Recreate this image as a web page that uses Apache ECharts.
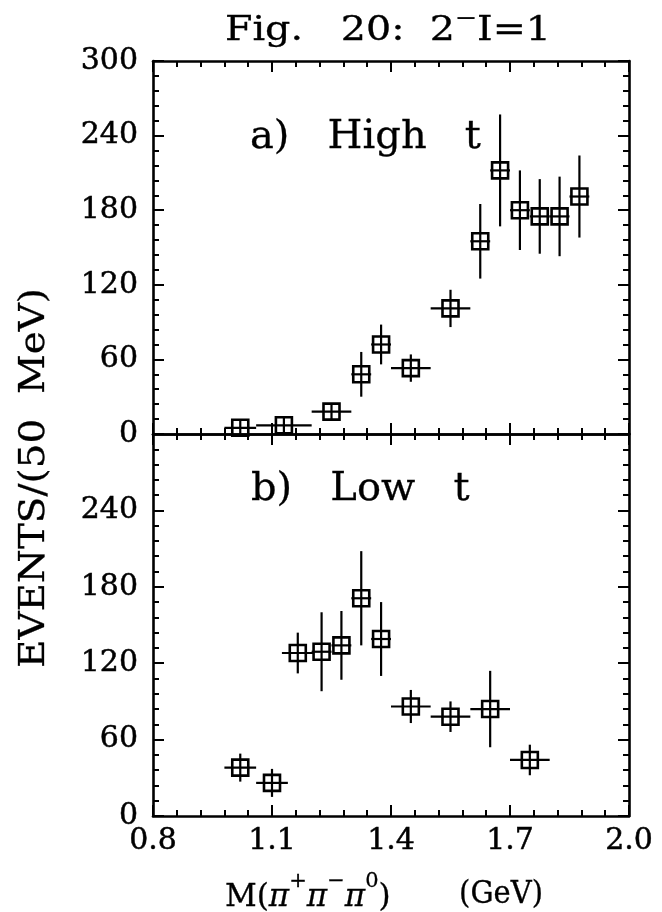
<!DOCTYPE html>
<html>
<head>
<meta charset="utf-8">
<script src="https://cdn.jsdelivr.net/npm/echarts@6/dist/echarts.min.js"></script>
<style>
  html, body { margin: 0; padding: 0; background: #fff; }
  #chart { width: 662px; height: 912px; }
</style>
</head>
<body>
<div id="chart"></div>
<script>
// Panel a) High t : mass bins, events, half-widths and errors
const massHigh   = [1.02, 1.13, 1.25, 1.325, 1.375, 1.45, 1.55, 1.625, 1.675, 1.725, 1.775, 1.825, 1.875];
const eventsHigh = [5, 7, 18, 48, 72, 53, 101, 155, 212, 180, 175, 175, 191];
const dMassHigh  = [0.04, 0.07, 0.05, 0.025, 0.025, 0.05, 0.05, 0.025, 0.025, 0.025, 0.025, 0.025, 0.025];
const dEventsHigh = [3, 4, 5, 18, 16, 11, 15, 30, 45, 32, 30, 32, 33];

// Panel b) Low t
const massLow    = [1.02, 1.10, 1.165, 1.225, 1.275, 1.325, 1.375, 1.45, 1.55, 1.65, 1.75];
const eventsLow  = [38, 26, 128, 129, 134, 171, 139, 86, 78, 84, 44];
const dMassLow   = [0.04, 0.04, 0.04, 0.025, 0.025, 0.025, 0.025, 0.05, 0.05, 0.05, 0.05];
const dEventsLow = [11, 11, 16, 31, 27, 37, 29, 13, 12, 30, 12];

// Axis ranges / ticks
const massRange = [0.8, 2.0];
const massStep = 0.3;
const eventsRange = [0, 300];
const eventsStep = 60;

const FONT = 'DejaVu Serif';
const INK = '#000';
const HALO = 0.5;   // slight thickening of axis labels
const HALO_G = 0.3; // same for free-standing labels

function rows(x, y, dx, dy) {
  return x.map((v, i) => [v, y[i], dx[i], dy[i]]);
}

function xAxisDef(gridIndex, position, showLabels) {
  return {
    type: 'value', gridIndex, position,
    min: massRange[0], max: massRange[1], interval: massStep,
    axisLine: { show: true, onZero: false, lineStyle: { color: INK, width: 2.6 } },
    axisTick: { show: true, inside: true, length: 11, lineStyle: { color: INK, width: 2 } },
    minorTick: { show: true, splitNumber: 5, length: 6, lineStyle: { color: INK, width: 2 } },
    splitLine: { show: false },
    axisLabel: {
      show: showLabels, margin: 10, color: INK, fontFamily: FONT, fontSize: 30,
      textBorderColor: INK, textBorderWidth: HALO,
      showMinLabel: true, showMaxLabel: true,
      formatter: v => Number(v).toFixed(1)
    }
  };
}

function yAxisDef(gridIndex, position, showLabels, hideTop) {
  return {
    type: 'value', gridIndex, position,
    min: eventsRange[0], max: eventsRange[1], interval: eventsStep,
    axisLine: { show: true, onZero: false, lineStyle: { color: INK, width: 2.6 } },
    axisTick: { show: true, inside: true, length: 11, lineStyle: { color: INK, width: 2 } },
    minorTick: { show: true, splitNumber: 5, length: 6, lineStyle: { color: INK, width: 2 } },
    splitLine: { show: false },
    axisLabel: {
      show: showLabels, margin: 15, color: INK, fontFamily: FONT, fontSize: 30,
      textBorderColor: INK, textBorderWidth: HALO,
      showMinLabel: true, showMaxLabel: true,
      formatter: v => (hideTop && v === eventsRange[1]) ? '' : String(v)
    }
  };
}

// Square marker with a cross, plus horizontal and vertical error bars
function renderPoint(params, api) {
  const x = api.value(0), y = api.value(1), dx = api.value(2), dy = api.value(3);
  const c = api.coord([x, y]);
  const l = api.coord([x - dx, y]);
  const r = api.coord([x + dx, y]);
  const t = api.coord([x, y + dy]);
  const b = api.coord([x, y - dy]);
  const h = 8;
  const stroke = { stroke: INK, lineWidth: 2.2, fill: null };
  return {
    type: 'group',
    children: [
      { type: 'line', shape: { x1: Math.min(l[0], c[0] - h), y1: c[1], x2: Math.max(r[0], c[0] + h), y2: c[1] }, style: stroke },
      { type: 'line', shape: { x1: c[0], y1: Math.min(t[1], c[1] - h), x2: c[0], y2: Math.max(b[1], c[1] + h) }, style: stroke },
      { type: 'rect', shape: { x: c[0] - h, y: c[1] - h, width: 2 * h, height: 2 * h }, style: { stroke: INK, lineWidth: 2.6, fill: 'rgba(0,0,0,0)' } }
    ]
  };
}

// Text style helper for free-standing labels (outline thickens the glyphs)
function ink(size, extra) {
  return Object.assign({ fontFamily: FONT, fontSize: size, fill: INK, stroke: INK, lineWidth: HALO_G }, extra || {});
}

const chart = echarts.init(document.getElementById('chart'), null, { renderer: 'canvas' });

chart.setOption({
  animation: false,
  backgroundColor: '#fff',
  grid: [
    { left: 153, top: 61, width: 476, height: 373, outerBoundsMode: 'none' },
    { left: 153, top: 434, width: 476, height: 382, outerBoundsMode: 'none' }
  ],
  xAxis: [
    xAxisDef(0, 'bottom', false),
    xAxisDef(0, 'top', false),
    xAxisDef(1, 'bottom', true),
    xAxisDef(1, 'top', false)
  ],
  yAxis: [
    yAxisDef(0, 'left', true, false),
    yAxisDef(0, 'right', false, false),
    yAxisDef(1, 'left', true, true),
    yAxisDef(1, 'right', false, false)
  ],
  series: [
    {
      type: 'custom', name: 'High t', xAxisIndex: 0, yAxisIndex: 0,
      data: rows(massHigh, eventsHigh, dMassHigh, dEventsHigh),
      encode: { x: 0, y: 1 }, renderItem: renderPoint, clip: false
    },
    {
      type: 'custom', name: 'Low t', xAxisIndex: 2, yAxisIndex: 2,
      data: rows(massLow, eventsLow, dMassLow, dEventsLow),
      encode: { x: 0, y: 1 }, renderItem: renderPoint, clip: false
    }
  ],
  graphic: [
    {
      type: 'text', x: 388, y: 28, scaleX: 1.2,
      style: {
        text: '{n|Fig.   20:  2}{s|−}{n|I=1}',
        align: 'center', verticalAlign: 'middle', fill: INK,
        rich: {
          n: ink(33, { lineHeight: 40, verticalAlign: 'bottom' }),
          s: ink(22, { lineHeight: 40, verticalAlign: 'top' })
        }
      }
    },
    {
      type: 'text', x: 35, y: 478, rotation: Math.PI / 2, scaleX: 1.08,
      style: ink(36, { text: 'EVENTS/(50  MeV)', align: 'center', verticalAlign: 'middle' })
    },
    {
      type: 'text', x: 250, y: 138,
      style: ink(40, { text: 'a)   High   t', align: 'left', verticalAlign: 'middle' })
    },
    {
      type: 'text', x: 251, y: 490,
      style: ink(40, { text: 'b)   Low   t', align: 'left', verticalAlign: 'middle' })
    },
    {
      type: 'text', x: 225, y: 892,
      style: {
        text: '{n|M(}{p|π}{s|+}{p|π}{s|−}{p|π}{s|0}{n|)}',
        align: 'left', verticalAlign: 'middle', fill: INK,
        rich: {
          n: ink(31, { lineHeight: 42, verticalAlign: 'bottom' }),
          p: ink(31, { lineHeight: 42, verticalAlign: 'bottom', fontStyle: 'italic' }),
          s: ink(21, { lineHeight: 42, verticalAlign: 'top' })
        }
      }
    },
    {
      type: 'text', x: 543, y: 895, scaleY: 1.1,
      style: ink(29, { text: '(GeV)', align: 'right', verticalAlign: 'middle' })
    }
  ]
});
</script>
</body>
</html>
